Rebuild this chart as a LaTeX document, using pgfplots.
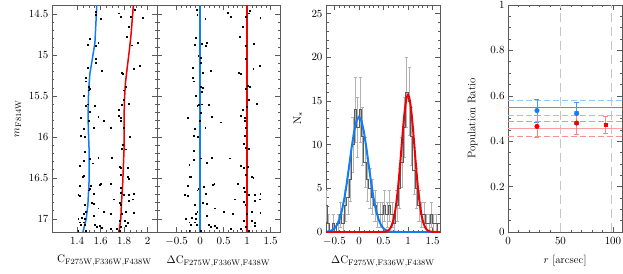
\documentclass[border=0pt]{standalone}
\usepackage{pgfplots}
\pgfplotsset{compat=1.18}
\definecolor{myblue}{RGB}{15,125,245}
\definecolor{myred}{RGB}{240,0,0}
\definecolor{axgray}{RGB}{90,90,90}
\definecolor{lblue}{RGB}{60,155,255}
\definecolor{dblue}{RGB}{150,200,255}
\definecolor{lred}{RGB}{255,160,160}
\definecolor{dred}{RGB}{250,145,145}
\pgfplotsset{
  every axis/.append style={scale only axis, anchor=south west,
    font=\fontsize{11}{12}\selectfont, tick align=inside,
    axis line style={axgray, line width=0.6pt},
    every tick/.style={axgray, line width=0.5pt},
    major tick length=5pt, minor tick length=2.5pt,
    xticklabel style={yshift=-2pt},
    xlabel style={yshift=-4pt},
    clip=true},
}
\newcommand{\sub}{\mathrm{F275W,F336W,F438W}}
\begin{document}
\begin{tikzpicture}
\path[use as bounding box] (0pt,0pt) rectangle (623pt,273pt);

% Panel 1
\begin{axis}[at={(52pt,41pt)}, width=105pt, height=227pt,
  xmin=1.187, xmax=2.08, ymin=14.39, ymax=17.16, y dir=reverse,
  xtick={1.4,1.6,1.8,2}, minor x tick num=3,
  ytick={14.5,15,15.5,16,16.5,17}, minor y tick num=4,
  xlabel={$\mathrm{C}_{\sub}$}, ylabel={$m_{\mathrm{F814W}}$},
  ylabel style={yshift=1pt}]
\addplot[only marks, mark=square*, mark size=0.45pt, black] coordinates {
(1.562,14.47)(1.556,14.51)(1.60,14.56)(1.752,14.49)(1.772,14.53)(1.894,14.45)(1.86,14.53)(1.956,14.54)
(1.84,14.66)(1.823,14.78)(1.51,14.80)(1.58,14.85)(1.488,14.87)(1.562,14.89)(1.913,14.85)(1.865,14.88)
(1.559,15.04)(1.562,15.09)(1.936,15.13)(1.49,15.16)(1.61,15.19)(1.885,15.17)(1.78,15.22)(1.79,15.23)
(1.474,15.28)(1.474,15.32)(1.502,15.39)(1.505,15.41)(1.497,15.43)(1.81,15.39)(1.80,15.43)(1.454,15.50)
(1.80,15.55)(1.843,15.59)(1.488,15.60)(1.477,15.62)(1.553,15.62)(1.78,15.61)(1.752,15.67)(1.51,15.69)
(1.434,15.77)(1.58,15.75)(1.752,15.74)(1.772,15.77)(1.497,15.80)(1.63,15.80)(1.772,15.80)
(1.454,15.90)(1.539,15.89)(1.687,15.89)(1.794,15.89)(1.434,15.98)(1.462,16.00)(1.845,16.00)
(1.79,16.09)(1.78,16.14)(1.817,16.15)(1.462,16.18)(1.51,16.27)(1.58,16.25)(1.695,16.25)(1.46,16.29)
(1.534,16.32)(1.426,16.35)(1.76,16.36)(1.775,16.38)(1.828,16.37)(1.445,16.49)(1.454,16.47)(1.828,16.49)
(1.84,16.51)(1.775,16.46)(1.426,16.60)(1.517,16.60)(1.59,16.58)(1.60,16.57)(1.69,16.57)(1.505,16.63)
(1.772,16.62)(1.772,16.68)(1.41,16.70)(1.426,16.72)(1.497,16.65)(1.539,16.69)(1.80,16.70)(1.843,16.70)
(1.88,16.69)(1.709,16.76)(1.525,16.80)(1.462,16.83)(1.539,16.81)(1.766,16.80)(1.775,16.83)(1.843,16.78)
(1.874,16.76)(1.624,16.91)(1.58,16.87)(1.69,16.94)(1.46,16.94)(1.477,16.91)(1.78,16.94)(1.817,16.91)
(1.88,16.92)(1.41,17.00)(1.44,16.98)(1.539,16.96)(1.468,17.00)(1.42,17.04)(1.454,17.04)(1.468,17.07)
(1.431,17.07)(1.553,17.07)(1.568,17.09)(1.596,17.08)(1.61,17.11)(1.76,17.02)(1.809,17.02)(1.828,17.05)
(1.817,17.08)(1.772,17.09)(1.738,17.12)(1.41,17.14)(1.477,17.14)(1.69,17.12)(1.766,17.14)
};
\addplot[myblue, line width=1.5pt] coordinates {
(1.568,14.39)(1.552,14.85)(1.530,15.05)(1.510,15.22)(1.500,15.40)(1.496,15.55)(1.494,15.77)(1.497,15.95)
(1.502,16.14)(1.502,16.55)(1.492,16.83)(1.478,17.00)(1.450,17.16)};
\addplot[myred, line width=1.5pt] coordinates {
(1.879,14.39)(1.860,14.74)(1.845,14.94)(1.828,15.14)(1.811,15.35)(1.803,15.55)(1.800,15.77)
(1.800,16.14)(1.789,16.55)(1.777,16.83)(1.772,17.00)(1.757,17.16)};
\end{axis}

% Panel 2
\begin{axis}[at={(157pt,41pt)}, width=123pt, height=227pt,
  xmin=-0.915, xmax=1.70, ymin=14.39, ymax=17.16, y dir=reverse,
  xtick={-0.5,0,0.5,1,1.5}, minor x tick num=4,
  ytick={14.5,15,15.5,16,16.5,17}, minor y tick num=4, yticklabels={},
  xlabel={$\Delta\mathrm{C}_{\sub}$}]
\addplot[only marks, mark=square*, mark size=0.45pt, black] coordinates {
(-0.07,14.45)(-0.06,14.51)(0.11,14.56)(0.59,14.48)(0.66,14.53)(1.05,14.46)(1.03,14.49)(0.97,14.53)
(1.28,14.54)(0.90,14.66)(0.84,14.78)(-0.09,14.79)(0.14,14.85)(0.04,14.86)(-0.12,14.87)(0.12,14.89)
(0.97,14.89)(1.14,14.86)(-0.04,15.01)(0.01,15.03)(0.97,15.04)(0.01,15.09)(1.27,15.13)(-0.16,15.16)
(0.23,15.19)(0.06,15.22)(1.13,15.17)(0.83,15.22)(0.86,15.23)(-0.16,15.28)(-0.13,15.32)(0.01,15.39)
(0.06,15.40)(0.04,15.45)(1.01,15.37)(1.06,15.39)(0.98,15.41)(-0.10,15.50)(1.04,15.55)(1.21,15.59)
(0.04,15.60)(-0.06,15.62)(-0.02,15.61)(0.19,15.61)(0.99,15.63)(0.91,15.67)(0.01,15.70)(-0.27,15.77)
(0.25,15.75)(0.87,15.74)(0.94,15.77)(0.00,15.80)(0.43,15.82)(0.94,15.80)
(0.11,15.89)(-0.11,15.90)(0.97,15.89)(-0.14,15.98)(-0.05,16.00)(0.94,15.98)(0.92,16.08)(0.97,16.13)
(1.04,16.14)(-0.13,16.17)(0.02,16.26)(0.25,16.25)(0.64,16.26)(-0.13,16.28)(0.14,16.31)(-0.23,16.34)
(0.87,16.35)(0.92,16.37)(1.01,16.36)(-0.23,16.48)(-0.20,16.49)(1.10,16.48)(1.13,16.50)(0.98,16.46)
(-0.27,16.60)(0.07,16.61)(0.26,16.58)(0.30,16.57)(-0.04,16.63)(0.80,16.57)(0.93,16.62)(0.94,16.67)
(-0.32,16.70)(-0.26,16.72)(-0.06,16.65)(0.12,16.69)(1.03,16.70)(1.16,16.70)(1.28,16.69)(0.73,16.76)
(0.05,16.80)(-0.12,16.83)(0.14,16.81)(0.92,16.79)(0.96,16.83)(1.16,16.78)(1.26,16.76)(0.50,16.91)
(0.32,16.87)(0.69,16.94)(-0.09,16.94)(-0.06,16.91)(0.99,16.94)(1.09,16.91)(1.28,16.92)(-0.30,17.00)
(-0.18,16.98)(0.14,16.96)(-0.10,17.00)(-0.23,17.04)(-0.11,17.04)(-0.07,17.07)(-0.19,17.07)(0.18,17.07)
(0.23,17.09)(0.32,17.08)(0.35,17.11)(0.92,17.02)(1.09,17.02)(1.17,17.05)(1.16,17.08)(0.98,17.09)
(0.87,17.12)(-0.23,17.14)(0.02,17.14)(0.66,17.12)(1.04,17.14)
};
\addplot[myblue, line width=1.5pt] coordinates {(0,14.39)(0,17.16)};
\addplot[myred, line width=1.5pt] coordinates {(1,14.39)(1,17.16)};
\end{axis}

% Panel 3
\begin{axis}[at={(326pt,41pt)}, width=114pt, height=227pt,
  xmin=-0.673, xmax=1.653, ymin=0, ymax=26,
  xtick={-0.5,0,0.5,1,1.5}, minor x tick num=4,
  ytick={0,5,10,15,20,25}, minor y tick num=4,
  xlabel={$\Delta\mathrm{C}_{\sub}$}, ylabel={$\mathrm{N}_*$},
  ylabel style={yshift=2pt}]
\addplot[draw=none, mark=none, forget plot,
  error bars/.cd, y dir=both, y explicit,
  error bar style={gray!60, line width=0.6pt},
  error mark options={rotate=90, mark size=1.6pt, gray!60, line width=0.6pt}]
 table[x=x, y=y, y error=e] {
x y e
-0.675 3 1.73
-0.625 1 1
-0.525 1 1
-0.425 1 1
-0.375 2 1.41
-0.325 1 1
-0.275 3 1.73
-0.225 4 2
-0.175 6 2.45
-0.125 10 3.16
-0.075 14 3.74
-0.025 12 3.46
0.025 14 3.74
0.075 11 3.32
0.125 8 2.83
0.175 6 2.45
0.225 5 2.24
0.275 4 2
0.325 3 1.73
0.375 2 1.41
0.425 2 1.41
0.475 2 1.41
0.525 3 1.73
0.575 2 1.41
0.625 3 1.73
0.675 2 1.41
0.725 1 1
0.775 3 1.73
0.825 5 2.24
0.875 8 2.83
0.925 12 3.46
0.975 16 4
1.025 15 3.87
1.075 11 3.32
1.125 7 2.65
1.175 5 2.24
1.225 3 1.73
1.275 2 1.41
1.325 2 1.41
1.375 1 1
1.425 1 1
1.475 2 1.41
1.525 1 1
1.575 1 1
};
\addplot[const plot mark mid, color=axgray, line width=0.9pt] coordinates {
(-0.675,3)(-0.625,1)(-0.575,0)(-0.525,1)(-0.475,0)(-0.425,1)(-0.375,2)(-0.325,1)(-0.275,3)(-0.225,4)
(-0.175,6)(-0.125,10)(-0.075,14)(-0.025,12)(0.025,14)(0.075,11)(0.125,8)(0.175,6)(0.225,5)(0.275,4)
(0.325,3)(0.375,2)(0.425,2)(0.475,2)(0.525,3)(0.575,2)(0.625,3)(0.675,2)(0.725,1)(0.775,3)
(0.825,5)(0.875,8)(0.925,12)(0.975,16)(1.025,15)(1.075,11)(1.125,7)(1.175,5)(1.225,3)(1.275,2)
(1.325,2)(1.375,1)(1.425,1)(1.475,2)(1.525,1)(1.575,1)(1.625,0)};
\addplot[myblue, line width=2pt] coordinates {
(-0.7,0)(-0.6,0.09)(-0.55,0.20)(-0.5,0.41)(-0.45,0.80)(-0.4,1.44)(-0.35,2.42)(-0.3,3.80)(-0.25,5.55)
(-0.2,7.59)(-0.15,9.67)(-0.1,11.49)(-0.05,12.75)(0,13.2)(0.05,12.75)(0.1,11.49)(0.15,9.67)(0.2,7.59)
(0.25,5.55)(0.3,3.80)(0.35,2.42)(0.4,1.44)(0.45,0.80)(0.5,0.41)(0.55,0.20)(0.6,0.09)(0.7,0.015)(0.8,0)(1.7,0)};
\addplot[myred, line width=2pt] coordinates {
(-0.7,0)(0.4,0)(0.5,0.02)(0.55,0.06)(0.6,0.19)(0.625,0.33)(0.65,0.54)(0.675,0.87)(0.7,1.33)(0.725,1.97)
(0.75,2.83)(0.775,3.92)(0.8,5.24)(0.825,6.78)(0.85,8.47)(0.875,10.23)(0.9,11.93)(0.925,13.46)
(0.95,14.66)(0.975,15.43)(1.0,15.7)(1.025,15.43)(1.05,14.66)(1.075,13.46)(1.1,11.93)(1.125,10.23)
(1.15,8.47)(1.175,6.78)(1.2,5.24)(1.225,3.92)(1.25,2.83)(1.275,1.97)(1.3,1.33)(1.325,0.87)
(1.35,0.54)(1.375,0.33)(1.4,0.19)(1.45,0.06)(1.5,0.02)(1.6,0)(1.7,0)};
\end{axis}

% Panel 4
\begin{axis}[at={(508pt,41pt)}, width=114pt, height=227pt,
  xmin=0, xmax=108.6, ymin=0, ymax=1,
  xtick={0,50,100}, minor x tick num=4,
  ytick={0,0.2,0.4,0.6,0.8,1}, minor y tick num=3,
  yticklabel style={/pgf/number format/fixed},
  xlabel={$r$ [arcsec]}, ylabel={Population Ratio},
  ylabel style={yshift=6pt}]
\addplot[gray!45, dash pattern=on 9pt off 5pt, line width=0.9pt] coordinates {(50,0)(50,1)};
\addplot[gray!45, dash pattern=on 9pt off 5pt, line width=0.9pt] coordinates {(99,0)(99,1)};
\addplot[lblue, line width=1pt] coordinates {(0,0.548)(108.6,0.548)};
\addplot[dblue, line width=1pt, dash pattern=on 6pt off 3pt] coordinates {(0,0.58)(108.6,0.58)};
\addplot[dblue, line width=1pt, dash pattern=on 6pt off 3pt] coordinates {(0,0.512)(108.6,0.512)};
\addplot[lred, line width=1pt] coordinates {(0,0.457)(108.6,0.457)};
\addplot[dred, line width=1pt, dash pattern=on 6pt off 3pt] coordinates {(0,0.487)(108.6,0.487)};
\addplot[dred, line width=1pt, dash pattern=on 6pt off 3pt] coordinates {(0,0.42)(108.6,0.42)};
\addplot[only marks, mark=*, mark size=2.3pt, color=myblue,
  error bars/.cd, y dir=both, y explicit,
  error bar style={lblue, line width=0.6pt},
  error mark options={rotate=90, mark size=2.5pt, lblue}]
  coordinates {(27.6,0.535) +- (0,0.052) (65.4,0.522) +- (0,0.048)};
\addplot[only marks, mark=*, mark size=2.3pt, color=myred,
  error bars/.cd, y dir=both, y explicit,
  error bar style={dred!90!red, line width=0.6pt},
  error mark options={rotate=90, mark size=2.5pt, dred!90!red}]
  coordinates {(27.6,0.465) +- (0,0.049) (65.4,0.48) +- (0,0.05)};
\addplot[only marks, mark=square*, mark size=1.6pt, color=myred,
  error bars/.cd, y dir=both, y explicit,
  error bar style={dred!90!red, line width=0.6pt},
  error mark options={rotate=90, mark size=2.5pt, dred!90!red}]
  coordinates {(93,0.472) +- (0,0.036)};
\end{axis}
\end{tikzpicture}
\end{document}
